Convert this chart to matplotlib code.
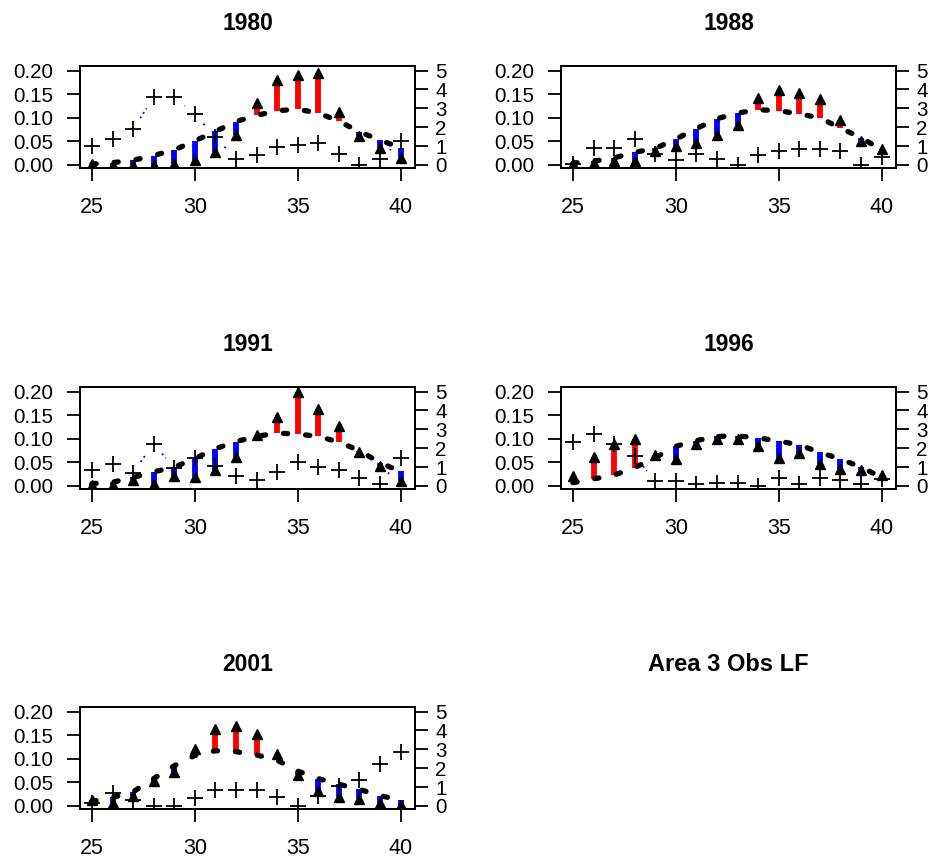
import numpy as np
import matplotlib
matplotlib.use("Agg")
import matplotlib.pyplot as plt

plt.rcParams["font.family"] = ["Liberation Sans", "DejaVu Sans"]

# length classes
lengths = np.arange(25, 41)

years = ["1980", "1988", "1991", "1996", "2001"]

# observed proportions (triangles)
obs_1980 = [0.003, 0.0, 0.0, 0.0, 0.003, 0.01, 0.028, 0.064, 0.131, 0.18, 0.19, 0.194, 0.112, 0.062, 0.035, 0.014]
obs_1988 = [0.003, 0.005, 0.008, 0.008, 0.03, 0.04, 0.046, 0.064, 0.085, 0.141, 0.159, 0.152, 0.14, 0.095, 0.05, 0.033]
obs_1991 = [0.003, 0.002, 0.012, 0.004, 0.022, 0.02, 0.034, 0.061, 0.107, 0.146, 0.2, 0.163, 0.126, 0.073, 0.043, 0.01]
obs_1996 = [0.021, 0.061, 0.088, 0.099, 0.065, 0.057, 0.088, 0.1, 0.1, 0.085, 0.06, 0.069, 0.046, 0.035, 0.033, 0.023]
obs_2001 = [0.013, 0.007, 0.022, 0.052, 0.073, 0.12, 0.162, 0.17, 0.152, 0.11, 0.066, 0.032, 0.02, 0.014, 0.006, 0.002]

# predicted proportions (dashed line)
pred_1980 = [0.002, 0.005, 0.01, 0.02, 0.032, 0.051, 0.071, 0.092, 0.105, 0.115, 0.118, 0.11, 0.093, 0.07, 0.053, 0.036]
pred_1988 = [0.004, 0.008, 0.015, 0.027, 0.035, 0.055, 0.077, 0.098, 0.11, 0.117, 0.115, 0.108, 0.1, 0.078, 0.058, 0.032]
pred_1991 = [0.005, 0.008, 0.018, 0.03, 0.04, 0.058, 0.079, 0.094, 0.105, 0.112, 0.11, 0.105, 0.093, 0.075, 0.049, 0.031]
pred_1996 = [0.007, 0.015, 0.023, 0.039, 0.06, 0.084, 0.096, 0.105, 0.106, 0.102, 0.095, 0.087, 0.071, 0.057, 0.04, 0.018]
pred_2001 = [0.01, 0.018, 0.03, 0.058, 0.085, 0.107, 0.117, 0.115, 0.108, 0.097, 0.074, 0.058, 0.046, 0.035, 0.022, 0.012]

# right axis values (crosses)
rhs_1980 = [1.0, 1.38, 1.9, 3.58, 3.58, 2.7, 1.47, 0.32, 0.53, 0.97, 1.06, 1.18, 0.57, 0.0, 0.32, 1.29]
rhs_1988 = [0.05, 0.88, 0.88, 1.38, 0.57, 0.27, 0.57, 0.32, 0.0, 0.53, 0.74, 0.83, 0.83, 0.76, 0.0, 0.44]
rhs_1991 = [0.83, 1.15, 0.71, 2.24, 0.94, 1.47, 1.06, 0.53, 0.3, 0.76, 1.27, 1.02, 0.85, 0.44, 0.09, 1.5]
rhs_1996 = [2.33, 2.77, 2.2, 1.59, 0.27, 0.27, 0.09, 0.18, 0.18, 0.0, 0.44, 0.09, 0.44, 0.3, 0.09, 0.35]
rhs_2001 = [0.18, 0.71, 0.3, 0.0, 0.0, 0.41, 0.83, 0.83, 0.83, 0.49, 0.0, 0.55, 1.06, 1.36, 2.2, 2.88]

obs_all = [obs_1980, obs_1988, obs_1991, obs_1996, obs_2001]
pred_all = [pred_1980, pred_1988, pred_1991, pred_1996, pred_2001]
rhs_all = [rhs_1980, rhs_1988, rhs_1991, rhs_1996, rhs_2001]

left_ticks = [0.0, 0.05, 0.10, 0.15, 0.20]
right_ticks = [0, 1, 2, 3, 4, 5]
x_ticks = [25, 30, 35, 40]


def gapped_line(ax, x, y, gap=13, **kw):
    # like R type="b": segments stop short of each point
    pts = ax.transData.transform(np.column_stack([x, y]))
    inv = ax.transData.inverted()
    for p0, p1 in zip(pts[:-1], pts[1:]):
        d = p1 - p0
        seg = np.hypot(d[0], d[1])
        if seg <= 2 * gap:
            continue
        u = d / seg
        a = inv.transform(p0 + u * gap)
        b = inv.transform(p1 - u * gap)
        ax.plot([a[0], b[0]], [a[1], b[1]], **kw)


W, H = 930, 863
fig = plt.figure(figsize=(W / 100, H / 100), dpi=100)

col_left = [80 / W, 561 / W]
row_bottom = [1 - 168.3 / H, 1 - 489.3 / H, 1 - 809.3 / H]
aw = 335 / W
ah = 102.5 / H

xlim = (24.42, 40.7)
ylim = (-0.007, 0.21)
ylim_r = (ylim[0] * 25, ylim[1] * 25)

for i, yr in enumerate(years):
    r, c = divmod(i, 2)
    ax = fig.add_axes([col_left[c], row_bottom[r], aw, ah])
    obs = np.array(obs_all[i])
    pred = np.array(pred_all[i])
    rhs = np.array(rhs_all[i])

    cols = ["red" if o > p else "blue" for o, p in zip(obs, pred)]
    ax.vlines(lengths, pred, obs, colors=cols, lw=4.2, zorder=2)
    ax.plot(lengths, pred, color="black", lw=3.8, linestyle=(0, (0.8, 3.4)),
            dash_capstyle="round", zorder=3)
    ax.plot(lengths, obs, linestyle="none", marker="^", ms=7, color="black", zorder=4)

    ax.set_xlim(*xlim)
    ax.set_ylim(*ylim)
    ax.set_xticks(x_ticks)
    ax.set_yticks(left_ticks)
    ax.set_yticklabels(["%.2f" % v for v in left_ticks])
    ax.tick_params(axis="x", length=9.6, width=1.3, pad=11, labelsize=15.5)
    ax.tick_params(axis="y", length=9.6, width=1.3, pad=9.5, labelsize=14.8)
    for s in ax.spines.values():
        s.set_linewidth(1.4)
    ax.set_title(yr, fontsize=16.5, fontweight="bold", pad=26)

    ax2 = ax.twinx()
    ax2.set_xlim(*xlim)
    ax2.set_ylim(*ylim_r)
    ax2.plot(lengths, rhs, linestyle="none", marker="+", ms=12, mew=1.3, color="black", zorder=5)
    gapped_line(ax2, lengths, rhs, gap=13, color="blue", lw=1.2,
                linestyle=(0, (1.2, 2.0)))
    ax2.set_ylim(*ylim_r)
    ax2.set_yticks(right_ticks)
    ax2.tick_params(axis="y", length=9.6, width=1.3, pad=5, labelsize=14.8)
    for s in ax2.spines.values():
        s.set_linewidth(1.4)

# legend panel title
axt = fig.add_axes([col_left[1], row_bottom[2], aw, ah])
axt.axis("off")
axt.set_title("Area 3 Obs LF", fontsize=17, fontweight="bold", pad=26)

fig.savefig("out.png", dpi=100)
